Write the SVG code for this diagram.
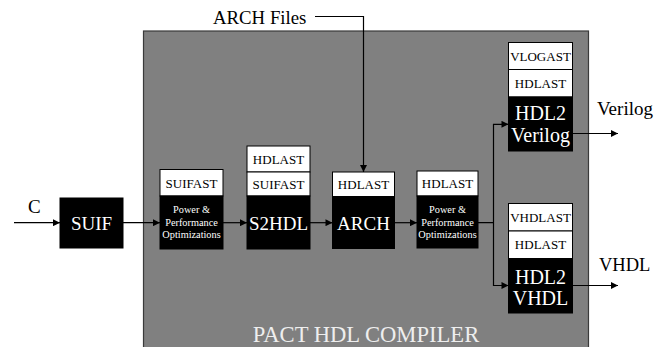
<svg xmlns="http://www.w3.org/2000/svg" width="665" height="347" viewBox="0 0 665 347">
  <defs>
    <marker id="arrow" viewBox="0 0 10 10" refX="10" refY="5" markerWidth="8" markerHeight="7" markerUnits="userSpaceOnUse" orient="auto">
      <path d="M0,0 L10,5 L0,10 Z" fill="#000"/>
    </marker>
  </defs>
  <style>
    .hl { font-size: 13px; fill: #000; text-anchor: middle; }
    .big { font-size: 19px; fill: #fff; text-anchor: middle; }
    .small { font-size: 10.3px; fill: #fff; text-anchor: middle; }
    .lbl { font-size: 19px; fill: #000; }
    .blk { fill: #000; stroke: #000; stroke-width: 1; }
    .hdr { fill: #fff; stroke: #000; stroke-width: 1; }
    .wire { fill: none; stroke: #000; stroke-width: 1.2; }
  </style>

  <g font-family="'Liberation Serif', 'DejaVu Serif', serif">
  <!-- compiler frame -->
  <g id="compiler">
    <rect x="143.5" y="31" width="445" height="330" fill="#808080" stroke="#3a3a3a" stroke-width="1.2"/>
    <text x="366" y="341.5" font-size="22.6" fill="#eeeeee" text-anchor="middle">PACT HDL COMPILER</text>
  </g>

  <!-- external labels -->
  <g id="label-arch-files"><text class="lbl" x="213" y="24" style="font-size:18.8px">ARCH Files</text></g>
  <g id="label-c"><text class="lbl" x="28" y="212.5">C</text></g>
  <g id="label-verilog"><text class="lbl" x="597" y="115">Verilog</text></g>
  <g id="label-vhdl"><text class="lbl" x="599" y="271" style="font-size:18.5px">VHDL</text></g>

  <!-- SUIF front end -->
  <g id="suif">
    <rect class="blk" x="60" y="198" width="63" height="50"/>
    <text class="big" x="91.5" y="230">SUIF</text>
  </g>

  <!-- first optimization pass -->
  <g id="opt1">
    <rect class="hdr" x="160" y="169.5" width="63" height="26.5"/>
    <text class="hl" x="191.5" y="187.5">SUIFAST</text>
    <rect class="blk" x="160" y="196" width="63" height="53"/>
    <text class="small" x="191.5" y="213.3">Power &amp;</text>
    <text class="small" x="191.5" y="225.8">Performance</text>
    <text class="small" x="191.5" y="238.3">Optimizations</text>
  </g>

  <!-- SUIF to HDL translation -->
  <g id="s2hdl">
    <rect class="hdr" x="247" y="146" width="63" height="26"/>
    <text class="hl" x="278.5" y="163.5">HDLAST</text>
    <rect class="hdr" x="247" y="172" width="63" height="24"/>
    <text class="hl" x="278.5" y="188.5">SUIFAST</text>
    <rect class="blk" x="247" y="196" width="63" height="53"/>
    <text class="big" x="278.5" y="230">S2HDL</text>
  </g>

  <!-- architecture mapping -->
  <g id="arch">
    <rect class="hdr" x="332.5" y="172" width="62" height="24.5"/>
    <text class="hl" x="363.5" y="188.7">HDLAST</text>
    <rect class="blk" x="332.5" y="196.5" width="62" height="52"/>
    <text class="big" x="363.5" y="230">ARCH</text>
  </g>

  <!-- second optimization pass -->
  <g id="opt2">
    <rect class="hdr" x="417" y="171" width="61" height="25"/>
    <text class="hl" x="447.5" y="188">HDLAST</text>
    <rect class="blk" x="417" y="196" width="61" height="52"/>
    <text class="small" x="447.5" y="213.3">Power &amp;</text>
    <text class="small" x="447.5" y="225.7">Performance</text>
    <text class="small" x="447.5" y="237.8">Optimizations</text>
  </g>

  <!-- Verilog back end -->
  <g id="hdl2verilog">
    <rect class="hdr" x="508.5" y="42.5" width="64" height="27"/>
    <text class="hl" x="540.5" y="60.5">VLOGAST</text>
    <rect class="hdr" x="508.5" y="69.5" width="64" height="27.5"/>
    <text class="hl" x="540.5" y="87.8">HDLAST</text>
    <rect class="blk" x="508.5" y="97" width="64" height="54"/>
    <text class="big" x="540.5" y="119.5" style="font-size:20px">HDL2</text>
    <text class="big" x="540.5" y="142" style="font-size:20px">Verilog</text>
  </g>

  <!-- VHDL back end -->
  <g id="hdl2vhdl">
    <rect class="hdr" x="508.5" y="203.5" width="64" height="27.5"/>
    <text class="hl" x="540.5" y="221.8">VHDLAST</text>
    <rect class="hdr" x="508.5" y="231" width="64" height="27.5"/>
    <text class="hl" x="540.5" y="249.3">HDLAST</text>
    <rect class="blk" x="508.5" y="258.5" width="64" height="54.5"/>
    <text class="big" x="540.5" y="283.5" style="font-size:20px">HDL2</text>
    <text class="big" x="540.5" y="304.5" style="font-size:20px">VHDL</text>
  </g>
  </g>

  <!-- connectors -->
  <g id="connectors">
    <path class="wire" d="M14,222.7 H60" marker-end="url(#arrow)"/>
    <path class="wire" d="M123,222.7 H160" marker-end="url(#arrow)"/>
    <path class="wire" d="M223,222.7 H247" marker-end="url(#arrow)"/>
    <path class="wire" d="M310,222.7 H332.5" marker-end="url(#arrow)"/>
    <path class="wire" d="M394.5,222.7 H417" marker-end="url(#arrow)"/>
    <path class="wire" d="M315,16.5 H363.5 V172" marker-end="url(#arrow)"/>
    <path class="wire" d="M478,222.7 H493.5 V124.3 H508.5" marker-end="url(#arrow)"/>
    <path class="wire" d="M493.5,222.7 V285.5 H508.5" marker-end="url(#arrow)"/>
    <path class="wire" d="M572.5,133.5 H618" marker-end="url(#arrow)"/>
    <path class="wire" d="M572.5,285.5 H618" marker-end="url(#arrow)"/>
  </g>
</svg>
